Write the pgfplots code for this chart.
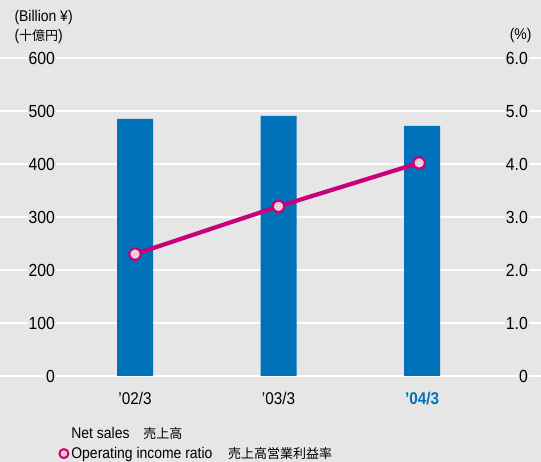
\documentclass[border=0pt]{standalone}
\usepackage{pgfplots}
\pgfplotsset{compat=1.18}
\usepackage{fontspec}
\setmainfont[FakeStretch=0.9]{Liberation Sans}
\newfontfamily\cjk{Noto Sans CJK JP}
\definecolor{bgc}{RGB}{230,230,230}
\definecolor{barblue}{RGB}{0,114,185}
\definecolor{magent}{RGB}{200,0,122}
\definecolor{pinkfill}{RGB}{242,206,219}
\begin{document}
\begin{tikzpicture}
\fill[bgc] (0,0) rectangle (541pt,462pt);
\path[use as bounding box] (0,0) rectangle (541pt,462pt);
\begin{axis}[at={(0pt,86pt)}, anchor=south west, scale only axis, width=541pt, height=318pt,
  xmin=-0.941, xmax=2.829, ymin=0, ymax=600,
  axis line style={draw=none}, major tick length=0pt,
  ytick={0,100,...,600}, yticklabels={0,100,200,300,400,500,600},
  ymajorgrids, grid style={white, line width=1.6pt},
  yticklabel style={anchor=east, xshift=56pt, fill=bgc, inner sep=1pt, font=\fontsize{17.5}{17.5}\selectfont},
  xtick={0,1,2}, xticklabels={’02/3,’03/3,\textbf{\color{barblue}’04/3}},
  xticklabel style={font=\fontsize{17}{17}\selectfont, yshift=-13pt},
  /pgf/number format/assume math mode=true]
\addplot[ybar, bar width=36pt, fill=barblue, draw=none] coordinates {(0,485) (1,491) (2,472)};
\end{axis}
\begin{axis}[at={(0pt,86pt)}, anchor=south west, scale only axis, width=541pt, height=318pt,
  xmin=-0.941, xmax=2.829, ymin=0, ymax=6,
  axis line style={draw=none}, major tick length=0pt,
  ytick={0,1,...,6}, yticklabels={0,1.0,2.0,3.0,4.0,5.0,6.0},
  yticklabel pos=right,
  yticklabel style={anchor=east, xshift=-12pt, fill=bgc, inner sep=1pt, font=\fontsize{17.5}{17.5}\selectfont},
  xtick=\empty,
  legend style={at={(58/541,-0.155)}, anchor=north west, draw=none, fill=none,
    font=\fontsize{15.5}{15.5}\selectfont, row sep=3pt, inner sep=0pt},
  legend cell align=left,
  /pgf/number format/assume math mode=true]
\addlegendimage{legend image code/.code={\path[draw=none, fill=none] (0,0) rectangle (0.35cm,0.1cm);}}
\addlegendentry{Net sales\hspace{0.9em}{\cjk\fontsize{13}{13}\selectfont 売上高}}
\addplot[magent, line width=4.2pt, mark=*, mark size=5.7pt,
  mark options={fill=pinkfill, draw=magent, line width=2.2pt},
  legend image code/.code={\draw[magent, line width=2pt, fill=pinkfill] (0.2cm,0cm) circle (4.5pt);}]
  coordinates {(0,2.3) (1,3.2) (1.98,4.02)};
\addlegendentry{Operating income ratio\hspace{1em}{\cjk\fontsize{13}{13}\selectfont 売上高営業利益率}}
\end{axis}
\node[anchor=west, font=\fontsize{15.5}{15.5}\selectfont] at (11pt,445pt) {(Billion ¥)};
\node[anchor=west, font=\fontsize{15.5}{15.5}\selectfont] at (11pt,426pt) {({\cjk\fontsize{13}{13}\selectfont 十億円})};
\node[anchor=east, font=\fontsize{15.5}{15.5}\selectfont] at (535pt,427pt) {(\%)};
\end{tikzpicture}
\end{document}
